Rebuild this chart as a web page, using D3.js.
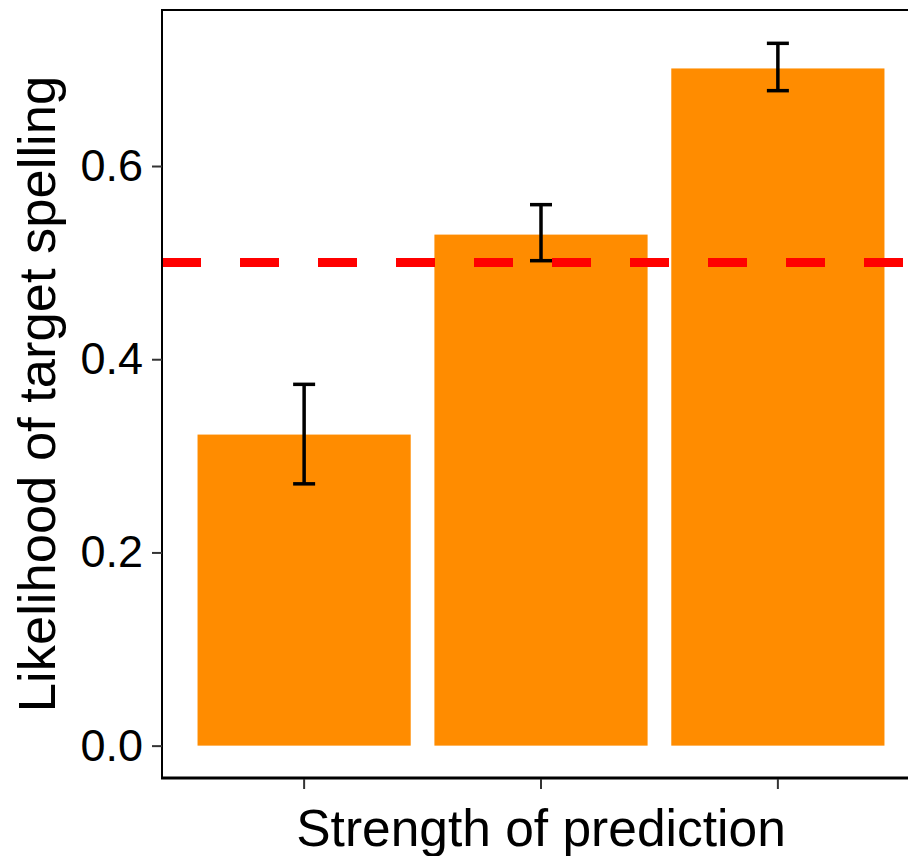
<html>
<head>
<title>Strength of prediction</title>
<script src="https://d3js.org/d3.v7.min.js" charset="utf-8"></script>
<style>
body { margin: 0; background: white; }
text { font-family: "Liberation Sans", Arial, sans-serif; fill: black; }
</style>
</head>
<body>
<script>
// data
var categories = ["Weak", "Medium", "Strong"];
var means = [0.322, 0.529, 0.701];
var lower = [0.271, 0.502, 0.678];
var upper = [0.374, 0.560, 0.727];
var yTicks = [0.0, 0.2, 0.4, 0.6];
var chance = 0.5;

var width = 908, height = 856;
// panel edges (right edge lies just outside the picture)
var panelL = 162, panelR = 920, panelT = 10, panelB = 778;

var svg = d3.select("body").append("svg")
  .attr("width", width)
  .attr("height", height);

var x = d3.scaleBand()
  .domain(categories)
  .range([panelL, panelR])
  .paddingInner(0.1)
  .paddingOuter(0.15);

var y = d3.scaleLinear()
  .domain([-0.0335, 0.7615])
  .range([panelB, panelT]);

// bars
svg.append("g").selectAll("rect")
  .data(categories)
  .enter()
  .append("rect")
  .attr("x", function(d) { return x(d); })
  .attr("width", x.bandwidth())
  .attr("y", function(d, i) { return y(means[i]); })
  .attr("height", function(d, i) { return y(0) - y(means[i]); })
  .attr("fill", "#FF8C00");

// dashed chance line
svg.append("line")
  .attr("x1", panelL).attr("x2", panelR)
  .attr("y1", y(chance)).attr("y2", y(chance))
  .attr("stroke", "#FF0000")
  .attr("stroke-width", 9)
  .attr("stroke-dasharray", "39 39");

// error bars
var eb = svg.append("g").attr("stroke", "black").attr("stroke-width", 3.5);
categories.forEach(function(c, i) {
  var cx = x(c) + x.bandwidth() / 2;
  eb.append("line").attr("x1", cx).attr("x2", cx)
    .attr("y1", y(lower[i])).attr("y2", y(upper[i]));
  eb.append("line").attr("x1", cx - 11).attr("x2", cx + 11)
    .attr("y1", y(lower[i])).attr("y2", y(lower[i]));
  eb.append("line").attr("x1", cx - 11).attr("x2", cx + 11)
    .attr("y1", y(upper[i])).attr("y2", y(upper[i]));
});

// panel border
svg.append("rect")
  .attr("x", panelL).attr("y", panelT)
  .attr("width", panelR - panelL).attr("height", panelB - panelT)
  .attr("fill", "none")
  .attr("stroke", "black")
  .attr("stroke-width", 2);
svg.append("line")
  .attr("x1", panelL - 1).attr("x2", panelR)
  .attr("y1", panelB).attr("y2", panelB)
  .attr("stroke", "black").attr("stroke-width", 3);

// y axis
var yAxis = svg.append("g")
  .attr("transform", "translate(" + panelL + ",0)")
  .call(d3.axisLeft(y).tickValues(yTicks).tickFormat(d3.format(".1f")).tickSize(10).tickPadding(9));
yAxis.select(".domain").remove();
yAxis.selectAll(".tick line").attr("stroke", "#333").attr("stroke-width", 2);
yAxis.selectAll(".tick text")
  .attr("font-size", 45)
  .attr("fill", "black")
  .attr("font-family", "Liberation Sans, Arial, sans-serif");

// x axis (ticks only, no labels)
var xAxis = svg.append("g")
  .attr("transform", "translate(0," + (panelB + 1) + ")")
  .call(d3.axisBottom(x).tickSize(10).tickFormat(""));
xAxis.select(".domain").remove();
xAxis.selectAll(".tick line").attr("stroke", "#333").attr("stroke-width", 2);

// axis titles
svg.append("text")
  .attr("x", (panelL + panelR) / 2)
  .attr("y", 846)
  .attr("text-anchor", "middle")
  .attr("font-size", 51.5)
  .text("Strength of prediction");

svg.append("text")
  .attr("transform", "translate(55," + ((panelT + panelB) / 2) + ") rotate(-90)")
  .attr("text-anchor", "middle")
  .attr("font-size", 52.5)
  .text("Likelihood of target spelling");
</script>
</body>
</html>
